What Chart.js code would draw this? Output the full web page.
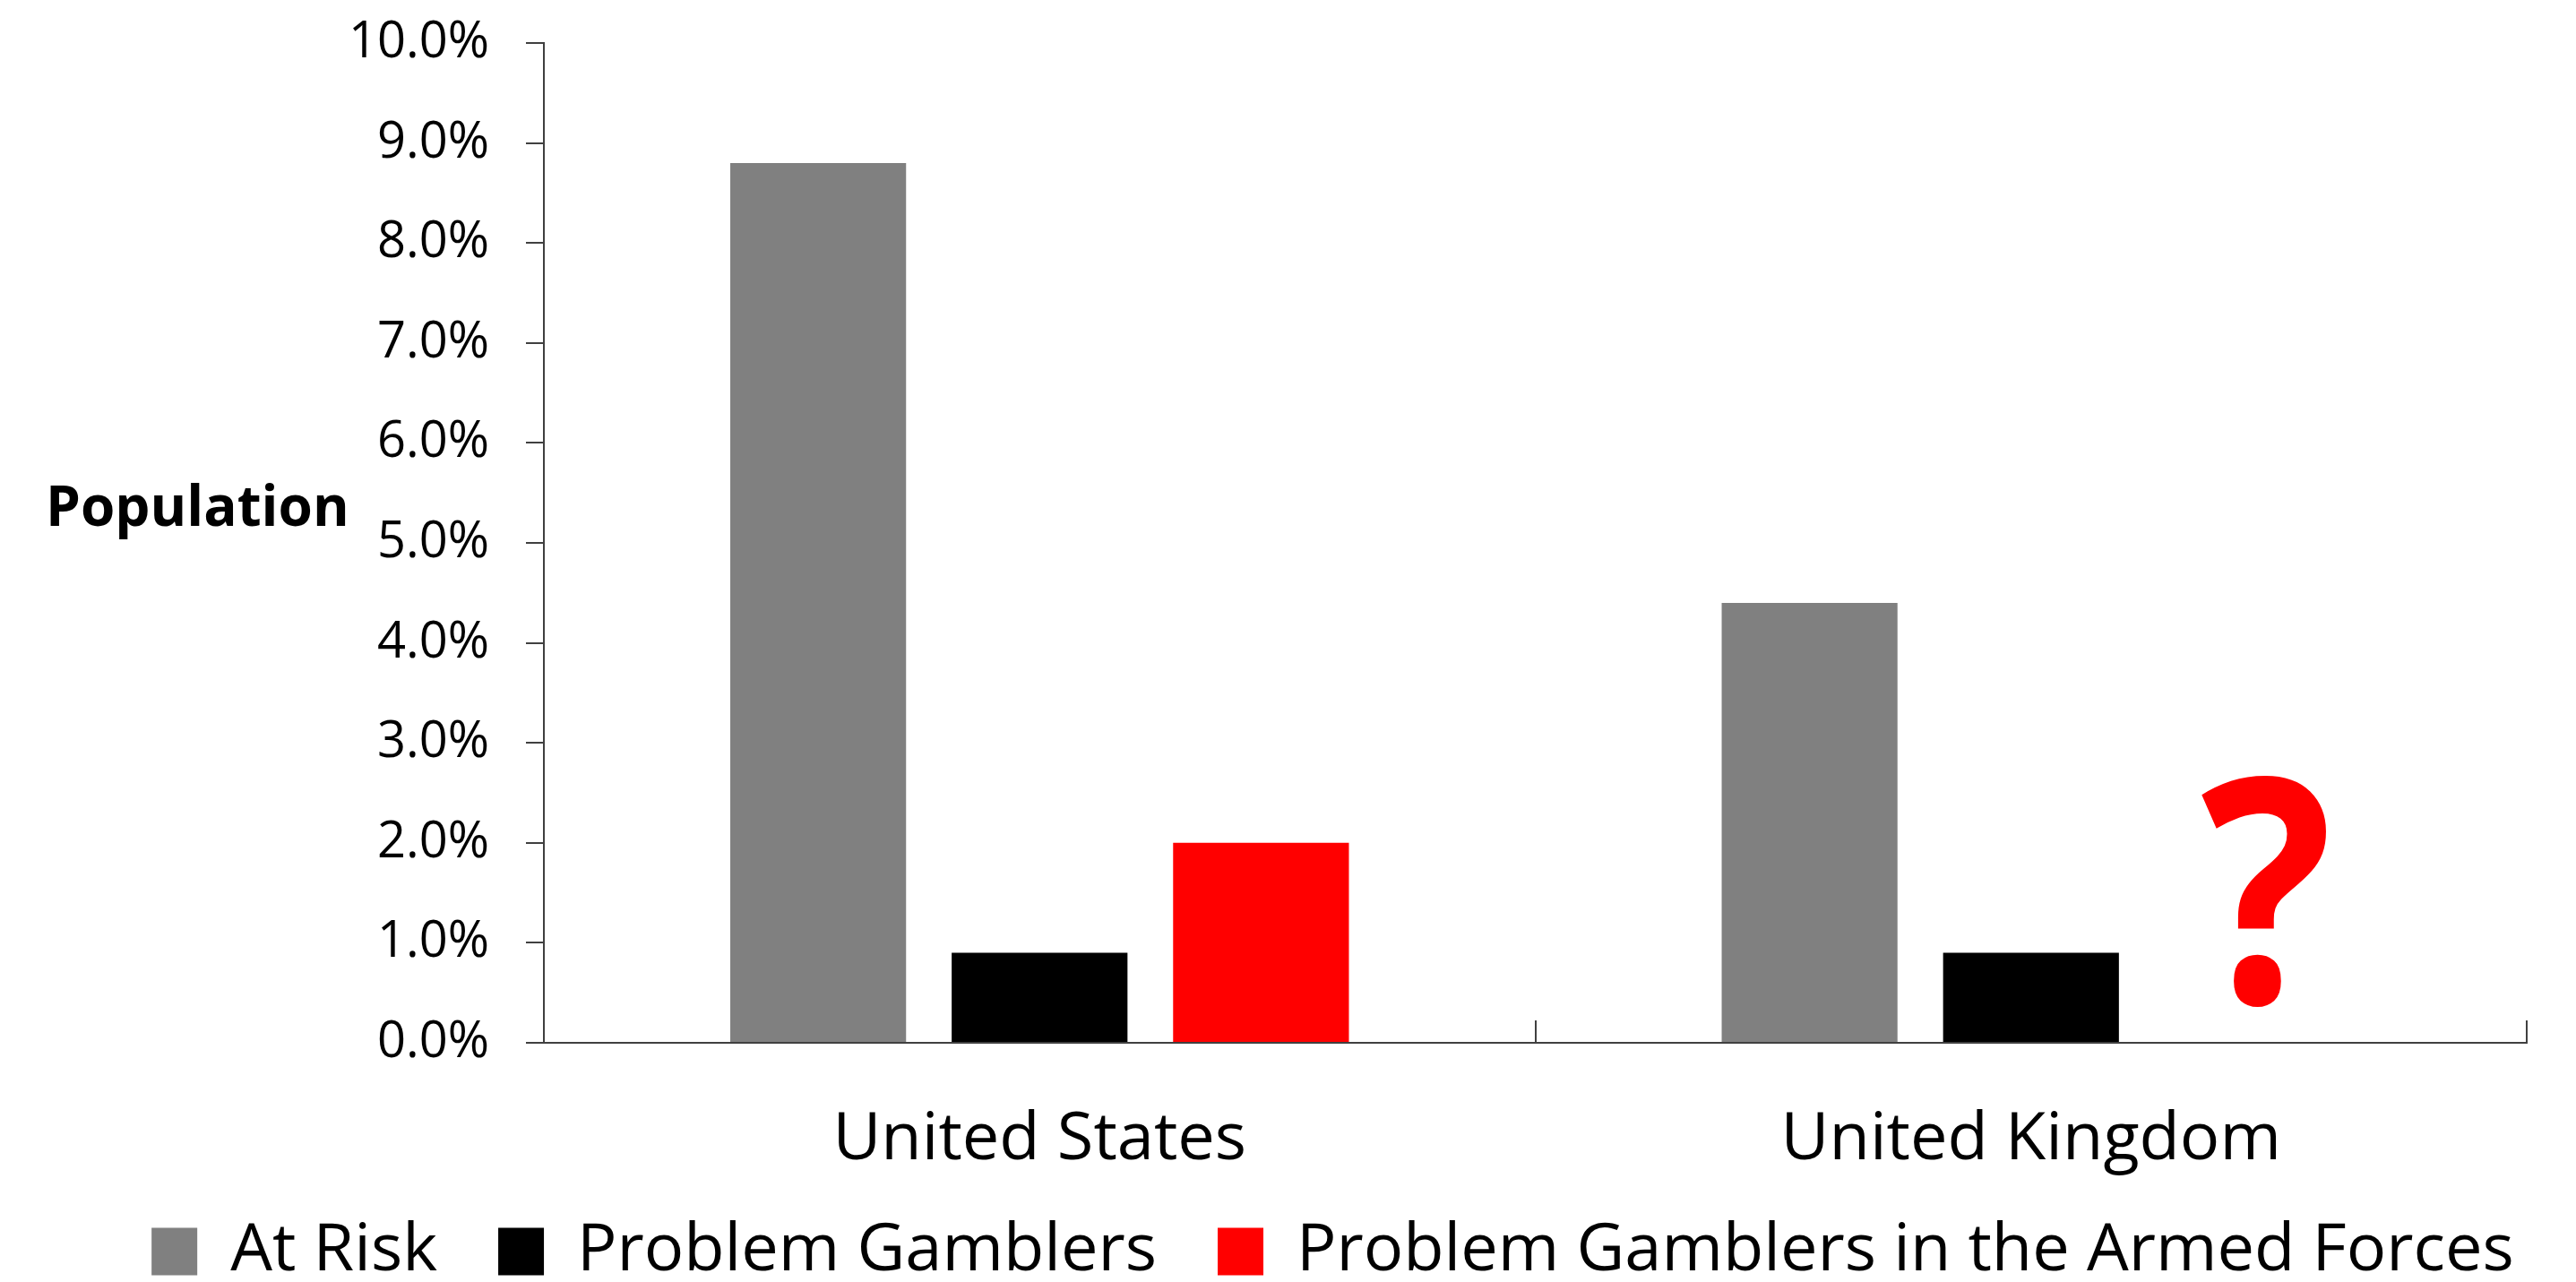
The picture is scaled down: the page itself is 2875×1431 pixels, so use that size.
<!DOCTYPE html>
<html>
<head>
<meta charset="utf-8">
<script src="https://cdn.jsdelivr.net/npm/chart.js@4.4.1/dist/chart.umd.min.js"></script>
<style>
  html, body { margin: 0; padding: 0; background: #ffffff; }
  #wrap { width: 2875px; height: 1431px; position: relative; }
</style>
</head>
<body>
<div id="wrap"><canvas id="chart"></canvas></div>
<script>
// Gambling prevalence: US vs UK, with armed-forces figure (unknown for UK).
const categories = ["United States", "United Kingdom"];
const atRisk = [8.8, 4.4];
const problemGamblers = [0.9, 0.9];
const armedForces = [2.0, null];
const seriesLabels = ["At Risk", "Problem Gamblers", "Problem Gamblers in the Armed Forces"];
const yTickLabels = ["0.0%", "1.0%", "2.0%", "3.0%", "4.0%", "5.0%", "6.0%", "7.0%", "8.0%", "9.0%", "10.0%"];
const yTitle = "Population";
const unknownMark = "?";
const unknownBase = 0.4; // baseline of the "?" in axis units

const FONT = '"Open Sans", "Noto Sans", sans-serif';
const AXIS = "#404040";

// Horizontal y-axis title and the red "?" where the UK armed-forces bar would be.
const annotations = {
  id: "annotations",
  afterLayout(chart) {
    // let the category labels hang below the axis box without being clipped
    chart.scales.x.bottom = chart.height;
  },
  afterDatasetsDraw(chart) {
    const ctx = chart.ctx;
    const bar = chart.getDatasetMeta(2).data[1];
    const y = chart.scales.y.getPixelForValue(unknownBase);
    ctx.save();
    ctx.fillStyle = "#ff0000";
    ctx.font = "bold 350px " + FONT;
    ctx.textAlign = "center";
    ctx.textBaseline = "alphabetic";
    ctx.translate(bar.x + 16, y);
    ctx.scale(0.88, 1);
    ctx.fillText(unknownMark, 0, 0);
    ctx.restore();
  },
  afterDraw(chart) {
    const ctx = chart.ctx;
    ctx.save();
    ctx.fillStyle = "#000000";
    ctx.font = "bold 62px " + FONT;
    ctx.textAlign = "left";
    ctx.textBaseline = "alphabetic";
    ctx.fillText(yTitle, 51, 587);
    ctx.restore();
  },
};

new Chart(document.getElementById("chart"), {
  type: "bar",
  data: {
    labels: categories,
    datasets: [
      { label: seriesLabels[0], data: atRisk, backgroundColor: "#808080" },
      { label: seriesLabels[1], data: problemGamblers, backgroundColor: "#000000" },
      { label: seriesLabels[2], data: armedForces, backgroundColor: "#ff0000" },
    ],
  },
  options: {
    responsive: true,
    maintainAspectRatio: false,
    animation: false,
    categoryPercentage: 0.67,
    barPercentage: 0.794,
    layout: { padding: { left: 100, right: 0, top: 48, bottom: -13 } },
    scales: {
      x: {
        afterFit: (s) => { s.height = 128; },
        grid: {
          drawOnChartArea: false,
          drawTicks: true,
          tickLength: -25,
          color: AXIS,
          lineWidth: 2,
        },
        border: { display: true, color: AXIS, width: 2 },
        ticks: { color: "#000000", padding: 90, font: { family: FONT, size: 74 } },
      },
      y: {
        min: 0,
        max: 10,
        afterFit: (s) => {
          s.width = 507;
          // tick padding is horizontal here; don't let it push the plot down
          s.paddingTop = 0;
          s.paddingBottom = 0;
        },
        grid: {
          drawOnChartArea: false,
          drawTicks: true,
          tickLength: 20,
          color: AXIS,
          lineWidth: 2,
        },
        border: { display: true, color: AXIS, width: 2 },
        ticks: {
          stepSize: 1,
          padding: 41,
          color: "#000000",
          font: { family: FONT, size: 56 },
          callback: (v, i) => yTickLabels[i],
        },
      },
      // empty spacer on the right so the plot ends where the original does
      yPad: {
        type: "linear",
        position: "right",
        display: true,
        afterFit: (s) => { s.width = 55; s.paddingTop = 0; s.paddingBottom = 0; },
        grid: { display: false },
        border: { display: false },
        ticks: { display: false },
      },
    },
    plugins: {
      legend: {
        position: "bottom",
        labels: {
          color: "#000000",
          boxWidth: 51,
          boxHeight: 53,
          padding: 68,
          font: { family: FONT, size: 74 },
        },
      },
      tooltip: { enabled: false },
    },
  },
  plugins: [annotations],
});
</script>
</body>
</html>
